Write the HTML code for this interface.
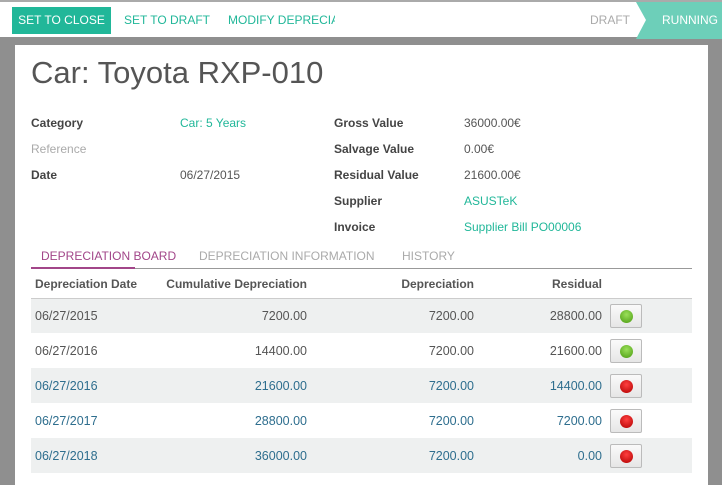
<!DOCTYPE html>
<html><head><style>
*{margin:0;padding:0;box-sizing:border-box}
body{width:722px;height:472px;overflow:hidden;background:#8f8f8f;font-family:"Liberation Sans",sans-serif;position:relative}
.top{position:absolute;left:0;top:0;width:722px;height:37px;background:#fff;border-top:2px solid #aaa}
.btn{position:absolute;top:5px;height:27px;line-height:27px;font-size:12px;color:#21b799}
.sheet{position:absolute;left:15px;top:45px;width:693px;height:440px;background:#fff}
.t{position:absolute;font-size:12px;white-space:nowrap}
.lbl{font-weight:bold;color:#444}
.g{color:#21b799}
table{position:absolute;left:16px;top:225px;width:661px;border-collapse:collapse;font-size:12.5px;table-layout:fixed}
td,th{height:35px;padding:0 4px}
th{height:28px;color:#555;font-size:12px;border-bottom:1px solid #ccc}
tr.s td{background:#eef0f0}
td.r,th.r{text-align:right}
td{color:#555}
tr.b td{color:#2e6e8e}
.ib{display:inline-block;width:32px;height:24px;border:1px solid #bbb;border-radius:2px;background:linear-gradient(#fafafa,#e6e6e6);vertical-align:middle;position:relative}
.ib i{position:absolute;left:9px;top:5px;width:13px;height:13px;border-radius:50%}
.gr i{background:radial-gradient(circle at 50% 35%,#9be05a,#4a9a10)}
.rd i{background:radial-gradient(circle at 50% 35%,#ff4040,#b00000)}
</style></head><body>
<div class="top">
<div class="btn" style="left:12px;width:99px;background:#21b799;color:#fff;text-align:center">SET TO CLOSE</div>
<div class="btn" style="left:124px">SET TO DRAFT</div>
<div class="btn" style="left:228px;width:107px;overflow:hidden;white-space:nowrap">MODIFY DEPRECIATION</div>
<div class="btn" style="left:590px;color:#aaa">DRAFT</div>
<svg style="position:absolute;left:636px;top:0" width="86" height="37"><polygon points="0,0 86,0 86,37 0,37 10,18" fill="#6dcfb9"/></svg>
<div class="btn" style="left:662px;color:#fff">RUNNING</div>
</div>
<div class="sheet">
<div class="t" style="left:16px;top:10px;font-size:31px;color:#555">Car: Toyota RXP-010</div>
<div class="t lbl" style="left:16px;top:71px">Category</div>
<div class="t g" style="left:165px;top:71px">Car: 5 Years</div>
<div class="t" style="left:16px;top:97px;color:#aaa">Reference</div>
<div class="t lbl" style="left:16px;top:123px">Date</div>
<div class="t" style="left:165px;top:123px;color:#555">06/27/2015</div>
<div class="t lbl" style="left:319px;top:71px">Gross Value</div>
<div class="t" style="left:449px;top:71px;color:#555">36000.00€</div>
<div class="t lbl" style="left:319px;top:97px">Salvage Value</div>
<div class="t" style="left:449px;top:97px;color:#555">0.00€</div>
<div class="t lbl" style="left:319px;top:123px">Residual Value</div>
<div class="t" style="left:449px;top:123px;color:#555">21600.00€</div>
<div class="t lbl" style="left:319px;top:149px">Supplier</div>
<div class="t g" style="left:449px;top:149px">ASUSTeK</div>
<div class="t lbl" style="left:319px;top:175px">Invoice</div>
<div class="t g" style="left:449px;top:175px">Supplier Bill PO00006</div>
<div class="t" style="left:26px;top:204px;color:#a24689">DEPRECIATION BOARD</div>
<div class="t" style="left:184px;top:204px;color:#aaa">DEPRECIATION INFORMATION</div>
<div class="t" style="left:387px;top:204px;color:#aaa">HISTORY</div>
<div style="position:absolute;left:16px;top:223px;width:661px;height:1px;background:#999"></div>
<div style="position:absolute;left:16px;top:222px;width:104px;height:2px;background:#a24689"></div>
<table>
<colgroup><col style="width:118px"><col style="width:162px"><col style="width:167px"><col style="width:128px"><col></colgroup>
<tr><th style="text-align:left">Depreciation Date</th><th class="r">Cumulative Depreciation</th><th class="r">Depreciation</th><th class="r">Residual</th><th></th></tr>
<tr class="s"><td>06/27/2015</td><td class="r">7200.00</td><td class="r">7200.00</td><td class="r">28800.00</td><td><span class="ib gr"><i></i></span></td></tr>
<tr><td>06/27/2016</td><td class="r">14400.00</td><td class="r">7200.00</td><td class="r">21600.00</td><td><span class="ib gr"><i></i></span></td></tr>
<tr class="s b"><td>06/27/2016</td><td class="r">21600.00</td><td class="r">7200.00</td><td class="r">14400.00</td><td><span class="ib rd"><i></i></span></td></tr>
<tr class="b"><td>06/27/2017</td><td class="r">28800.00</td><td class="r">7200.00</td><td class="r">7200.00</td><td><span class="ib rd"><i></i></span></td></tr>
<tr class="s b"><td>06/27/2018</td><td class="r">36000.00</td><td class="r">7200.00</td><td class="r">0.00</td><td><span class="ib rd"><i></i></span></td></tr>
</table>
</div>
</body></html>
